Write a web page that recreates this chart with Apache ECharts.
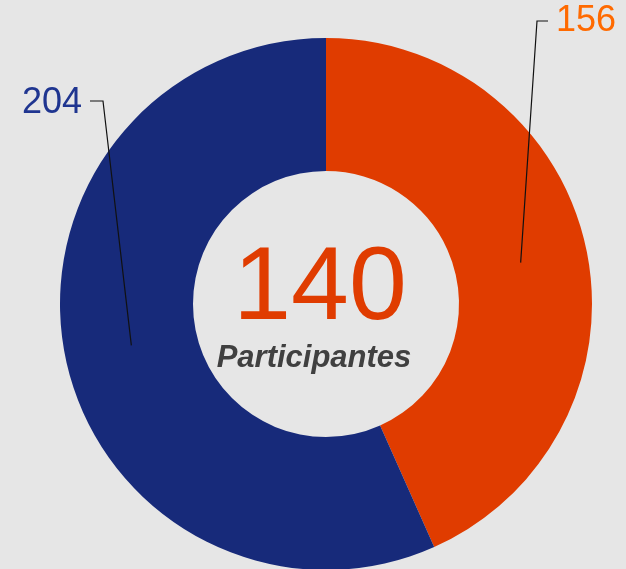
<!DOCTYPE html>
<html>
<head>
<meta charset="utf-8">
<style>
  html, body { margin: 0; padding: 0; background: #e6e6e6; }
  #chart { width: 626px; height: 569px; }
</style>
<script src="https://cdn.jsdelivr.net/npm/echarts@6/dist/echarts.min.js"></script>
</head>
<body>
<div id="chart"></div>
<script>
// datos
const categories = ['Grupo A', 'Grupo B'];
const values = [156, 204];
const sliceColors = ['#e03c00', '#172a7a'];
const labelColors = ['#ff6a00', '#1f3590'];
const totalParticipants = 140;
const centerCaption = 'Participantes';

const chart = echarts.init(document.getElementById('chart'));

const fontFamily = "'Liberation Sans', Arial, sans-serif";
const center = [326, 304];

const pieData = categories.map((name, i) => ({
  name: name,
  value: values[i],
  itemStyle: { color: sliceColors[i] },
}));

const labelData = categories.map((name, i) => ({
  name: name,
  value: values[i],
  label: { color: labelColors[i] },
}));

const option = {
  backgroundColor: '#e6e6e6',
  textStyle: { fontFamily: fontFamily },
  graphic: [
    {
      type: 'text',
      x: 320,
      y: 290,
      style: {
        text: String(totalParticipants),
        fill: '#e03c00',
        font: '104px ' + fontFamily,
        textAlign: 'center',
        textVerticalAlign: 'middle',
      },
    },
    {
      type: 'text',
      x: 314,
      y: 358,
      style: {
        text: centerCaption,
        fill: '#404040',
        font: 'italic bold 31px ' + fontFamily,
        textAlign: 'center',
        textVerticalAlign: 'middle',
      },
    },
  ],
  series: [
    {
      type: 'pie',
      center: center,
      radius: [133, 266],
      startAngle: 90,
      silent: true,
      label: { show: false },
      labelLine: { show: false },
      data: pieData,
    },
    {
      // anillo invisible para anclar las líneas guía a media corona
      type: 'pie',
      center: center,
      radius: [0, 199],
      startAngle: 90,
      silent: true,
      z: 3,
      itemStyle: { color: 'rgba(0,0,0,0)' },
      label: {
        show: true,
        position: 'outside',
        formatter: '{c}',
        fontSize: 36,
        fontFamily: fontFamily,
      },
      labelLine: {
        show: true,
        length: 20,
        length2: 10,
        lineStyle: { color: '#111', width: 1.2 },
      },
      labelLayout: function (params) {
        const anchor = params.labelLinePoints[0];
        if (params.dataIndex === 0) {
          return {
            x: 556,
            y: 21,
            align: 'left',
            verticalAlign: 'middle',
            labelLinePoints: [anchor, [537, 21], [548, 21]],
          };
        }
        return {
          x: 82,
          y: 103,
          align: 'right',
          verticalAlign: 'middle',
          labelLinePoints: [anchor, [103, 101], [90, 101]],
        };
      },
      data: labelData,
    },
  ],
};

chart.setOption(option);
window.addEventListener('resize', () => chart.resize());
</script>
</body>
</html>
